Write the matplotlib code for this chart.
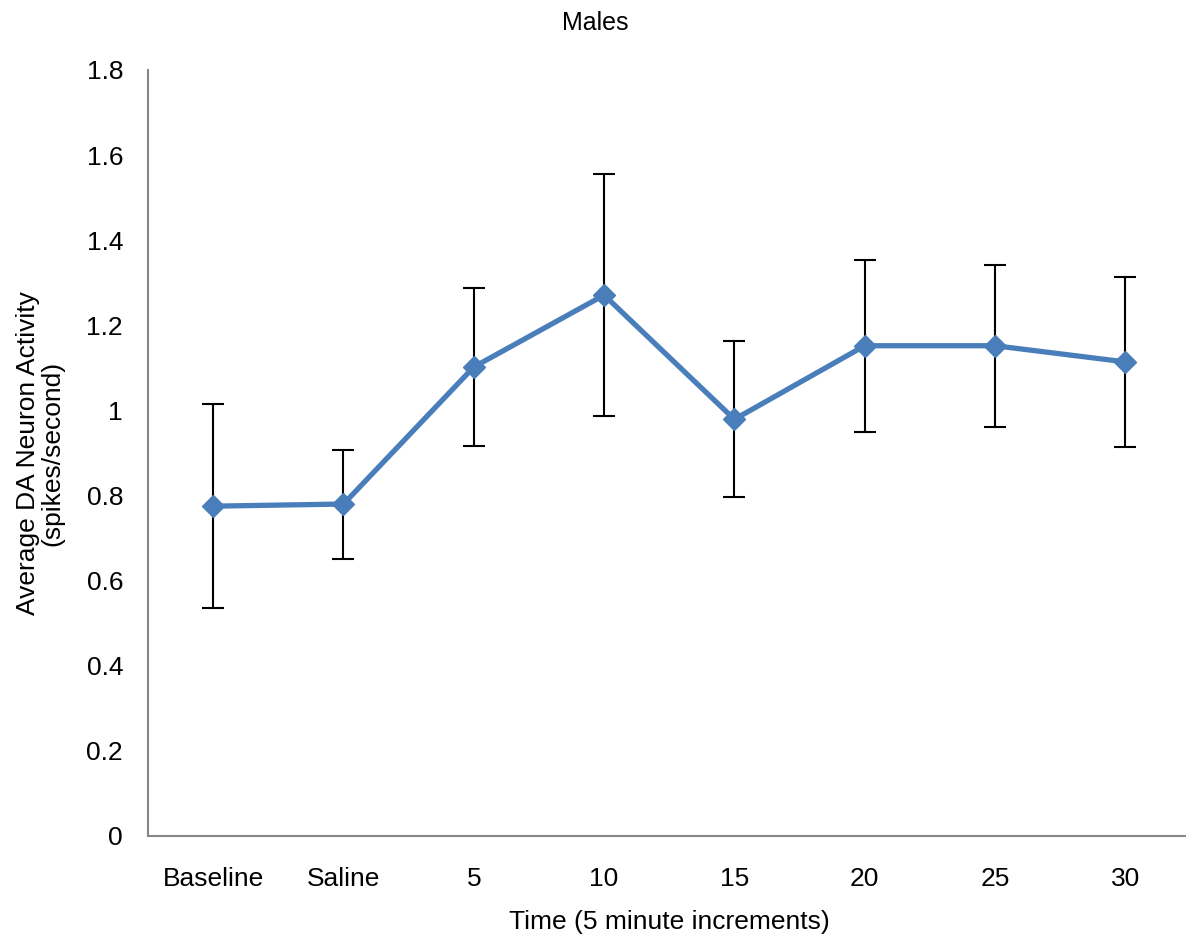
import matplotlib.pyplot as plt

plt.rcParams['font.family'] = ['Liberation Sans', 'DejaVu Sans']

# mean firing rate per time bin, with error (SEM)
categories = ['Baseline', 'Saline', '5', '10', '15', '20', '25', '30']
activity = [0.775, 0.780, 1.102, 1.271, 0.979, 1.152, 1.152, 1.114]
sem = [0.240, 0.128, 0.186, 0.284, 0.183, 0.202, 0.190, 0.199]

fig = plt.figure(figsize=(11.86, 9.43), dpi=100)
ax = fig.add_axes([0.1248, 0.1135, 0.879, 0.8123])

x = list(range(len(categories)))
ax.errorbar(x, activity, yerr=sem, fmt='none', ecolor='black',
            elinewidth=1.5, capsize=8, capthick=1.5, zorder=2)
ax.plot(x, activity, color='#4A7EBB', linewidth=3.8, marker='D',
        markersize=11, markerfacecolor='#4A7EBB', markeredgecolor='#4A7EBB',
        zorder=3)

ax.set_xlim(-0.5, len(categories) - 0.5)
ax.set_ylim(0, 1.8)
ax.set_yticks([0, 0.2, 0.4, 0.6, 0.8, 1, 1.2, 1.4, 1.6, 1.8])
ax.set_yticklabels(['0', '0.2', '0.4', '0.6', '0.8', '1', '1.2', '1.4', '1.6', '1.8'])
ax.set_xticks(x)
ax.set_xticklabels(categories)
ax.tick_params(axis='both', length=0, labelsize=19)
ax.tick_params(axis='y', pad=18)
ax.tick_params(axis='x', pad=22)

for side in ['top', 'right']:
    ax.spines[side].set_visible(False)
for side in ['left', 'bottom']:
    ax.spines[side].set_color('#868686')
    ax.spines[side].set_linewidth(1.5)

ax.set_xlabel('Time (5 minute increments)', fontsize=19, labelpad=14)
ax.set_ylabel('Average DA Neuron Activity\n(spikes/second)', fontsize=19,
              labelpad=16, linespacing=1.0)
fig.text(0.502, 0.976, 'Males', ha='center', va='center', fontsize=18)

fig.savefig('out.png', dpi=100, facecolor='white')
